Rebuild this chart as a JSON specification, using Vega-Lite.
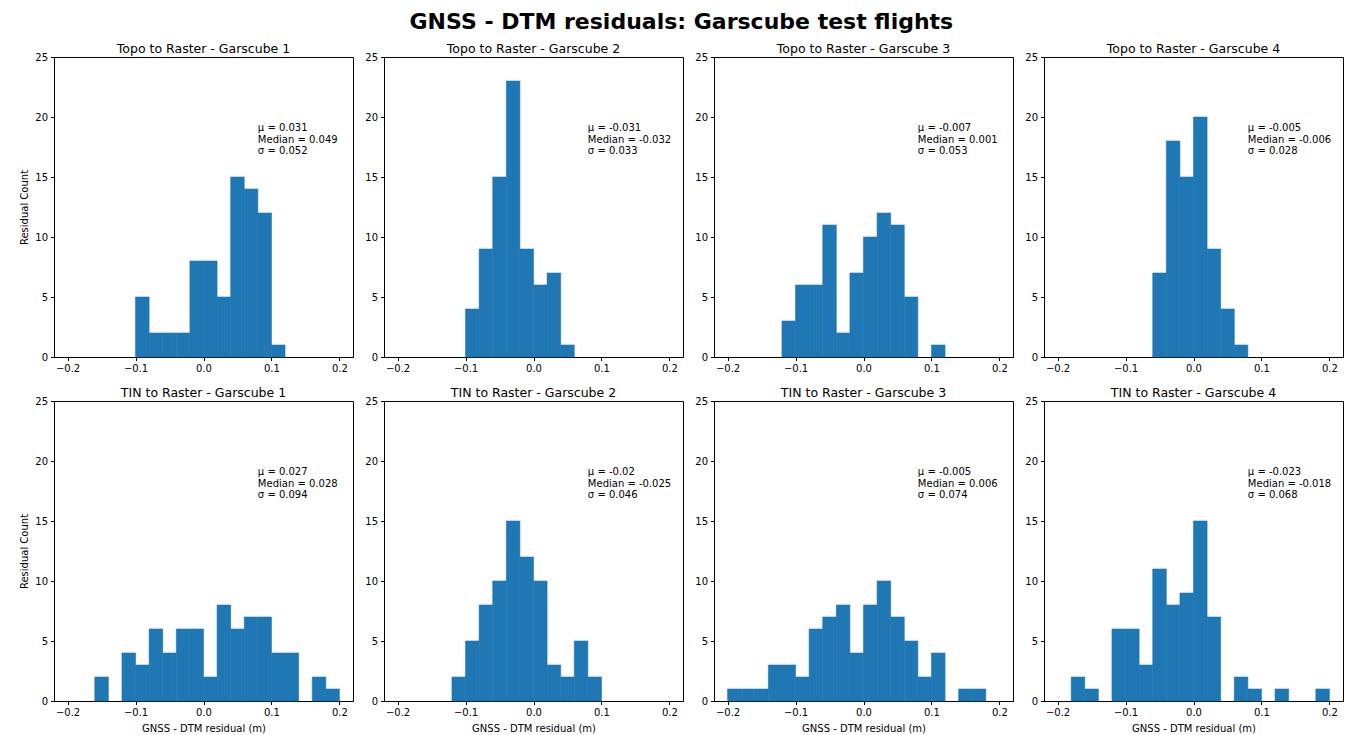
{
  "$schema": "https://vega.github.io/schema/vega-lite/v6.json",
  "title": {"text": "GNSS - DTM residuals: Garscube test flights", "fontSize": 22, "fontWeight": "bold", "anchor": "middle", "offset": 8, "color": "#000"},
  "padding": {"left": 19, "top": 11, "right": 2, "bottom": 2},
  "config": {
    "font": "DejaVu Sans",
    "view": {"stroke": "#000", "strokeWidth": 1},
    "axis": {"grid": false, "domainColor": "#000", "tickColor": "#000", "tickSize": 3.5, "labelFontSize": 10, "labelColor": "#000", "titleFontSize": 10, "titleFontWeight": "normal", "titleColor": "#000", "labelPadding": 3, "labelFlush": false, "labelOverlap": false},
    "title": {"fontSize": 12.5, "fontWeight": "normal", "offset": -3, "color": "#000"},
    "bar": {"color": "#1f77b4", "stroke": "#1f77b4", "strokeWidth": 0.6}
  },
  "datasets": {
    "hist": [
      {"panel": "T1", "start": -0.1, "end": -0.08, "count": 5},
      {"panel": "T1", "start": -0.08, "end": -0.06, "count": 2},
      {"panel": "T1", "start": -0.06, "end": -0.04, "count": 2},
      {"panel": "T1", "start": -0.04, "end": -0.02, "count": 2},
      {"panel": "T1", "start": -0.02, "end": 0.0, "count": 8},
      {"panel": "T1", "start": 0.0, "end": 0.02, "count": 8},
      {"panel": "T1", "start": 0.02, "end": 0.04, "count": 5},
      {"panel": "T1", "start": 0.04, "end": 0.06, "count": 15},
      {"panel": "T1", "start": 0.06, "end": 0.08, "count": 14},
      {"panel": "T1", "start": 0.08, "end": 0.1, "count": 12},
      {"panel": "T1", "start": 0.1, "end": 0.12, "count": 1},
      {"panel": "T2", "start": -0.1, "end": -0.08, "count": 4},
      {"panel": "T2", "start": -0.08, "end": -0.06, "count": 9},
      {"panel": "T2", "start": -0.06, "end": -0.04, "count": 15},
      {"panel": "T2", "start": -0.04, "end": -0.02, "count": 23},
      {"panel": "T2", "start": -0.02, "end": 0.0, "count": 9},
      {"panel": "T2", "start": 0.0, "end": 0.02, "count": 6},
      {"panel": "T2", "start": 0.02, "end": 0.04, "count": 7},
      {"panel": "T2", "start": 0.04, "end": 0.06, "count": 1},
      {"panel": "T3", "start": -0.12, "end": -0.1, "count": 3},
      {"panel": "T3", "start": -0.1, "end": -0.08, "count": 6},
      {"panel": "T3", "start": -0.08, "end": -0.06, "count": 6},
      {"panel": "T3", "start": -0.06, "end": -0.04, "count": 11},
      {"panel": "T3", "start": -0.04, "end": -0.02, "count": 2},
      {"panel": "T3", "start": -0.02, "end": 0.0, "count": 7},
      {"panel": "T3", "start": 0.0, "end": 0.02, "count": 10},
      {"panel": "T3", "start": 0.02, "end": 0.04, "count": 12},
      {"panel": "T3", "start": 0.04, "end": 0.06, "count": 11},
      {"panel": "T3", "start": 0.06, "end": 0.08, "count": 5},
      {"panel": "T3", "start": 0.1, "end": 0.12, "count": 1},
      {"panel": "T4", "start": -0.06, "end": -0.04, "count": 7},
      {"panel": "T4", "start": -0.04, "end": -0.02, "count": 18},
      {"panel": "T4", "start": -0.02, "end": 0.0, "count": 15},
      {"panel": "T4", "start": 0.0, "end": 0.02, "count": 20},
      {"panel": "T4", "start": 0.02, "end": 0.04, "count": 9},
      {"panel": "T4", "start": 0.04, "end": 0.06, "count": 4},
      {"panel": "T4", "start": 0.06, "end": 0.08, "count": 1},
      {"panel": "N1", "start": -0.16, "end": -0.14, "count": 2},
      {"panel": "N1", "start": -0.12, "end": -0.1, "count": 4},
      {"panel": "N1", "start": -0.1, "end": -0.08, "count": 3},
      {"panel": "N1", "start": -0.08, "end": -0.06, "count": 6},
      {"panel": "N1", "start": -0.06, "end": -0.04, "count": 4},
      {"panel": "N1", "start": -0.04, "end": -0.02, "count": 6},
      {"panel": "N1", "start": -0.02, "end": 0.0, "count": 6},
      {"panel": "N1", "start": 0.0, "end": 0.02, "count": 2},
      {"panel": "N1", "start": 0.02, "end": 0.04, "count": 8},
      {"panel": "N1", "start": 0.04, "end": 0.06, "count": 6},
      {"panel": "N1", "start": 0.06, "end": 0.08, "count": 7},
      {"panel": "N1", "start": 0.08, "end": 0.1, "count": 7},
      {"panel": "N1", "start": 0.1, "end": 0.12, "count": 4},
      {"panel": "N1", "start": 0.12, "end": 0.14, "count": 4},
      {"panel": "N1", "start": 0.16, "end": 0.18, "count": 2},
      {"panel": "N1", "start": 0.18, "end": 0.2, "count": 1},
      {"panel": "N2", "start": -0.12, "end": -0.1, "count": 2},
      {"panel": "N2", "start": -0.1, "end": -0.08, "count": 5},
      {"panel": "N2", "start": -0.08, "end": -0.06, "count": 8},
      {"panel": "N2", "start": -0.06, "end": -0.04, "count": 10},
      {"panel": "N2", "start": -0.04, "end": -0.02, "count": 15},
      {"panel": "N2", "start": -0.02, "end": 0.0, "count": 12},
      {"panel": "N2", "start": 0.0, "end": 0.02, "count": 10},
      {"panel": "N2", "start": 0.02, "end": 0.04, "count": 3},
      {"panel": "N2", "start": 0.04, "end": 0.06, "count": 2},
      {"panel": "N2", "start": 0.06, "end": 0.08, "count": 5},
      {"panel": "N2", "start": 0.08, "end": 0.1, "count": 2},
      {"panel": "N3", "start": -0.2, "end": -0.18, "count": 1},
      {"panel": "N3", "start": -0.18, "end": -0.16, "count": 1},
      {"panel": "N3", "start": -0.16, "end": -0.14, "count": 1},
      {"panel": "N3", "start": -0.14, "end": -0.12, "count": 3},
      {"panel": "N3", "start": -0.12, "end": -0.1, "count": 3},
      {"panel": "N3", "start": -0.1, "end": -0.08, "count": 2},
      {"panel": "N3", "start": -0.08, "end": -0.06, "count": 6},
      {"panel": "N3", "start": -0.06, "end": -0.04, "count": 7},
      {"panel": "N3", "start": -0.04, "end": -0.02, "count": 8},
      {"panel": "N3", "start": -0.02, "end": 0.0, "count": 4},
      {"panel": "N3", "start": 0.0, "end": 0.02, "count": 8},
      {"panel": "N3", "start": 0.02, "end": 0.04, "count": 10},
      {"panel": "N3", "start": 0.04, "end": 0.06, "count": 7},
      {"panel": "N3", "start": 0.06, "end": 0.08, "count": 5},
      {"panel": "N3", "start": 0.08, "end": 0.1, "count": 2},
      {"panel": "N3", "start": 0.1, "end": 0.12, "count": 4},
      {"panel": "N3", "start": 0.14, "end": 0.16, "count": 1},
      {"panel": "N3", "start": 0.16, "end": 0.18, "count": 1},
      {"panel": "N4", "start": -0.18, "end": -0.16, "count": 2},
      {"panel": "N4", "start": -0.16, "end": -0.14, "count": 1},
      {"panel": "N4", "start": -0.12, "end": -0.1, "count": 6},
      {"panel": "N4", "start": -0.1, "end": -0.08, "count": 6},
      {"panel": "N4", "start": -0.08, "end": -0.06, "count": 3},
      {"panel": "N4", "start": -0.06, "end": -0.04, "count": 11},
      {"panel": "N4", "start": -0.04, "end": -0.02, "count": 8},
      {"panel": "N4", "start": -0.02, "end": 0.0, "count": 9},
      {"panel": "N4", "start": 0.0, "end": 0.02, "count": 15},
      {"panel": "N4", "start": 0.02, "end": 0.04, "count": 7},
      {"panel": "N4", "start": 0.06, "end": 0.08, "count": 2},
      {"panel": "N4", "start": 0.08, "end": 0.1, "count": 1},
      {"panel": "N4", "start": 0.12, "end": 0.14, "count": 1},
      {"panel": "N4", "start": 0.18, "end": 0.2, "count": 1}
    ],
    "stats": [
      {"panel": "T1", "label": "μ = 0.031\nMedian = 0.049\nσ = 0.052"},
      {"panel": "T2", "label": "μ = -0.031\nMedian = -0.032\nσ = 0.033"},
      {"panel": "T3", "label": "μ = -0.007\nMedian = 0.001\nσ = 0.053"},
      {"panel": "T4", "label": "μ = -0.005\nMedian = -0.006\nσ = 0.028"},
      {"panel": "N1", "label": "μ = 0.027\nMedian = 0.028\nσ = 0.094"},
      {"panel": "N2", "label": "μ = -0.02\nMedian = -0.025\nσ = 0.046"},
      {"panel": "N3", "label": "μ = -0.005\nMedian = 0.006\nσ = 0.074"},
      {"panel": "N4", "label": "μ = -0.023\nMedian = -0.018\nσ = 0.068"}
    ]
  },
  "columns": 4,
  "bounds": "flush",
  "spacing": {"column": 31, "row": 44},
  "concat": [
    {"title": "Topo to Raster - Garscube 1", "width": 299, "height": 300, "layer": [
      {"data": {"name": "hist"}, "transform": [{"filter": "datum.panel === 'T1'"}], "mark": {"type": "bar"},
       "encoding": {"x": {"field": "start", "type": "quantitative", "scale": {"domain": [-0.22, 0.22], "nice": false, "zero": false}, "axis": {"title": null, "values": [-0.2, -0.1, 0, 0.1, 0.2], "labelExpr": "replace(format(datum.value, '.1f'), '-', '−')"}},
                    "x2": {"field": "end"},
                    "y": {"field": "count", "type": "quantitative", "scale": {"domain": [0, 25], "nice": false}, "axis": {"title": "Residual Count", "values": [0, 5, 10, 15, 20, 25], "titlePadding": 5}},
                    "y2": {"datum": 0}}},
      {"data": {"name": "stats"}, "transform": [{"filter": "datum.panel === 'T1'"}], "mark": {"type": "text", "align": "left", "baseline": "alphabetic", "fontSize": 10, "lineBreak": "\n", "lineHeight": 11.5, "color": "#000"},
       "encoding": {"x": {"datum": 0.08, "type": "quantitative"}, "y": {"datum": 18.8, "type": "quantitative"}, "text": {"field": "label"}}}
    ]},
    {"title": "Topo to Raster - Garscube 2", "width": 299, "height": 300, "layer": [
      {"data": {"name": "hist"}, "transform": [{"filter": "datum.panel === 'T2'"}], "mark": {"type": "bar"},
       "encoding": {"x": {"field": "start", "type": "quantitative", "scale": {"domain": [-0.22, 0.22], "nice": false, "zero": false}, "axis": {"title": null, "values": [-0.2, -0.1, 0, 0.1, 0.2], "labelExpr": "replace(format(datum.value, '.1f'), '-', '−')"}},
                    "x2": {"field": "end"},
                    "y": {"field": "count", "type": "quantitative", "scale": {"domain": [0, 25], "nice": false}, "axis": {"title": null, "values": [0, 5, 10, 15, 20, 25]}},
                    "y2": {"datum": 0}}},
      {"data": {"name": "stats"}, "transform": [{"filter": "datum.panel === 'T2'"}], "mark": {"type": "text", "align": "left", "baseline": "alphabetic", "fontSize": 10, "lineBreak": "\n", "lineHeight": 11.5, "color": "#000"},
       "encoding": {"x": {"datum": 0.08, "type": "quantitative"}, "y": {"datum": 18.8, "type": "quantitative"}, "text": {"field": "label"}}}
    ]},
    {"title": "Topo to Raster - Garscube 3", "width": 299, "height": 300, "layer": [
      {"data": {"name": "hist"}, "transform": [{"filter": "datum.panel === 'T3'"}], "mark": {"type": "bar"},
       "encoding": {"x": {"field": "start", "type": "quantitative", "scale": {"domain": [-0.22, 0.22], "nice": false, "zero": false}, "axis": {"title": null, "values": [-0.2, -0.1, 0, 0.1, 0.2], "labelExpr": "replace(format(datum.value, '.1f'), '-', '−')"}},
                    "x2": {"field": "end"},
                    "y": {"field": "count", "type": "quantitative", "scale": {"domain": [0, 25], "nice": false}, "axis": {"title": null, "values": [0, 5, 10, 15, 20, 25]}},
                    "y2": {"datum": 0}}},
      {"data": {"name": "stats"}, "transform": [{"filter": "datum.panel === 'T3'"}], "mark": {"type": "text", "align": "left", "baseline": "alphabetic", "fontSize": 10, "lineBreak": "\n", "lineHeight": 11.5, "color": "#000"},
       "encoding": {"x": {"datum": 0.08, "type": "quantitative"}, "y": {"datum": 18.8, "type": "quantitative"}, "text": {"field": "label"}}}
    ]},
    {"title": "Topo to Raster - Garscube 4", "width": 299, "height": 300, "layer": [
      {"data": {"name": "hist"}, "transform": [{"filter": "datum.panel === 'T4'"}], "mark": {"type": "bar"},
       "encoding": {"x": {"field": "start", "type": "quantitative", "scale": {"domain": [-0.22, 0.22], "nice": false, "zero": false}, "axis": {"title": null, "values": [-0.2, -0.1, 0, 0.1, 0.2], "labelExpr": "replace(format(datum.value, '.1f'), '-', '−')"}},
                    "x2": {"field": "end"},
                    "y": {"field": "count", "type": "quantitative", "scale": {"domain": [0, 25], "nice": false}, "axis": {"title": null, "values": [0, 5, 10, 15, 20, 25]}},
                    "y2": {"datum": 0}}},
      {"data": {"name": "stats"}, "transform": [{"filter": "datum.panel === 'T4'"}], "mark": {"type": "text", "align": "left", "baseline": "alphabetic", "fontSize": 10, "lineBreak": "\n", "lineHeight": 11.5, "color": "#000"},
       "encoding": {"x": {"datum": 0.08, "type": "quantitative"}, "y": {"datum": 18.8, "type": "quantitative"}, "text": {"field": "label"}}}
    ]},
    {"title": "TIN to Raster - Garscube 1", "width": 299, "height": 300, "layer": [
      {"data": {"name": "hist"}, "transform": [{"filter": "datum.panel === 'N1'"}], "mark": {"type": "bar"},
       "encoding": {"x": {"field": "start", "type": "quantitative", "scale": {"domain": [-0.22, 0.22], "nice": false, "zero": false}, "axis": {"title": "GNSS - DTM residual (m)", "values": [-0.2, -0.1, 0, 0.1, 0.2], "labelExpr": "replace(format(datum.value, '.1f'), '-', '−')", "titlePadding": 6}},
                    "x2": {"field": "end"},
                    "y": {"field": "count", "type": "quantitative", "scale": {"domain": [0, 25], "nice": false}, "axis": {"title": "Residual Count", "values": [0, 5, 10, 15, 20, 25], "titlePadding": 5}},
                    "y2": {"datum": 0}}},
      {"data": {"name": "stats"}, "transform": [{"filter": "datum.panel === 'N1'"}], "mark": {"type": "text", "align": "left", "baseline": "alphabetic", "fontSize": 10, "lineBreak": "\n", "lineHeight": 11.5, "color": "#000"},
       "encoding": {"x": {"datum": 0.08, "type": "quantitative"}, "y": {"datum": 18.8, "type": "quantitative"}, "text": {"field": "label"}}}
    ]},
    {"title": "TIN to Raster - Garscube 2", "width": 299, "height": 300, "layer": [
      {"data": {"name": "hist"}, "transform": [{"filter": "datum.panel === 'N2'"}], "mark": {"type": "bar"},
       "encoding": {"x": {"field": "start", "type": "quantitative", "scale": {"domain": [-0.22, 0.22], "nice": false, "zero": false}, "axis": {"title": "GNSS - DTM residual (m)", "values": [-0.2, -0.1, 0, 0.1, 0.2], "labelExpr": "replace(format(datum.value, '.1f'), '-', '−')", "titlePadding": 6}},
                    "x2": {"field": "end"},
                    "y": {"field": "count", "type": "quantitative", "scale": {"domain": [0, 25], "nice": false}, "axis": {"title": null, "values": [0, 5, 10, 15, 20, 25]}},
                    "y2": {"datum": 0}}},
      {"data": {"name": "stats"}, "transform": [{"filter": "datum.panel === 'N2'"}], "mark": {"type": "text", "align": "left", "baseline": "alphabetic", "fontSize": 10, "lineBreak": "\n", "lineHeight": 11.5, "color": "#000"},
       "encoding": {"x": {"datum": 0.08, "type": "quantitative"}, "y": {"datum": 18.8, "type": "quantitative"}, "text": {"field": "label"}}}
    ]},
    {"title": "TIN to Raster - Garscube 3", "width": 299, "height": 300, "layer": [
      {"data": {"name": "hist"}, "transform": [{"filter": "datum.panel === 'N3'"}], "mark": {"type": "bar"},
       "encoding": {"x": {"field": "start", "type": "quantitative", "scale": {"domain": [-0.22, 0.22], "nice": false, "zero": false}, "axis": {"title": "GNSS - DTM residual (m)", "values": [-0.2, -0.1, 0, 0.1, 0.2], "labelExpr": "replace(format(datum.value, '.1f'), '-', '−')", "titlePadding": 6}},
                    "x2": {"field": "end"},
                    "y": {"field": "count", "type": "quantitative", "scale": {"domain": [0, 25], "nice": false}, "axis": {"title": null, "values": [0, 5, 10, 15, 20, 25]}},
                    "y2": {"datum": 0}}},
      {"data": {"name": "stats"}, "transform": [{"filter": "datum.panel === 'N3'"}], "mark": {"type": "text", "align": "left", "baseline": "alphabetic", "fontSize": 10, "lineBreak": "\n", "lineHeight": 11.5, "color": "#000"},
       "encoding": {"x": {"datum": 0.08, "type": "quantitative"}, "y": {"datum": 18.8, "type": "quantitative"}, "text": {"field": "label"}}}
    ]},
    {"title": "TIN to Raster - Garscube 4", "width": 299, "height": 300, "layer": [
      {"data": {"name": "hist"}, "transform": [{"filter": "datum.panel === 'N4'"}], "mark": {"type": "bar"},
       "encoding": {"x": {"field": "start", "type": "quantitative", "scale": {"domain": [-0.22, 0.22], "nice": false, "zero": false}, "axis": {"title": "GNSS - DTM residual (m)", "values": [-0.2, -0.1, 0, 0.1, 0.2], "labelExpr": "replace(format(datum.value, '.1f'), '-', '−')", "titlePadding": 6}},
                    "x2": {"field": "end"},
                    "y": {"field": "count", "type": "quantitative", "scale": {"domain": [0, 25], "nice": false}, "axis": {"title": null, "values": [0, 5, 10, 15, 20, 25]}},
                    "y2": {"datum": 0}}},
      {"data": {"name": "stats"}, "transform": [{"filter": "datum.panel === 'N4'"}], "mark": {"type": "text", "align": "left", "baseline": "alphabetic", "fontSize": 10, "lineBreak": "\n", "lineHeight": 11.5, "color": "#000"},
       "encoding": {"x": {"datum": 0.08, "type": "quantitative"}, "y": {"datum": 18.8, "type": "quantitative"}, "text": {"field": "label"}}}
    ]}
  ]
}
